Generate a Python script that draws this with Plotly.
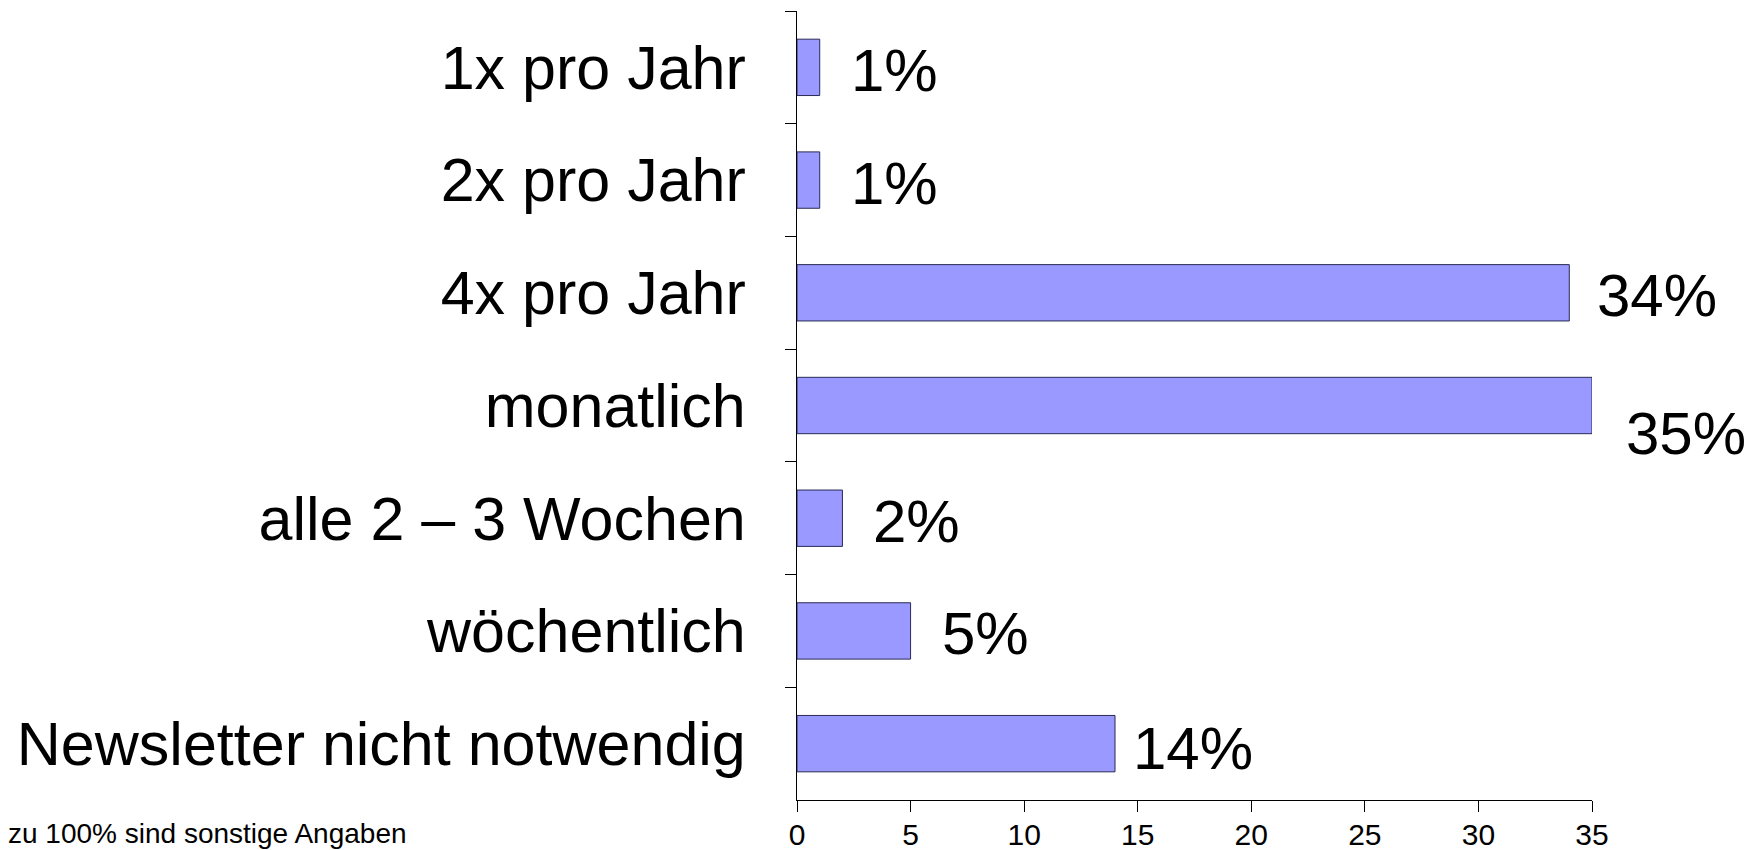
import plotly.graph_objects as go

categories = [
    "1x pro Jahr",
    "2x pro Jahr",
    "4x pro Jahr",
    "monatlich",
    "alle 2 \u2013 3 Wochen",
    "w\u00f6chentlich",
    "Newsletter nicht notwendig",
]
values = [1, 1, 34, 35, 2, 5, 14]
value_labels = ["1%", "1%", "34%", "35%", "2%", "5%", "14%"]
x_ticks = [0, 5, 10, 15, 20, 25, 30, 35]
footnote = "zu 100% sind sonstige Angaben"

FONT = "Arial, Liberation Sans, sans-serif"
# page body has an 8px margin, so the figure is sized to fit the window
W, H = 1752, 842
ML, MR, MT, MB = 789, 168, 3, 50

fig = go.Figure()
fig.add_trace(go.Bar(
    x=values,
    y=categories,
    orientation="h",
    marker=dict(color="#9999FF", line=dict(color="#2A2A55", width=1)),
    hoverinfo="x+y",
))

# label offsets (styling only)
label_dx = {"35%": 32, "14%": 16, "34%": 26}
label_dy = {"35%": -28, "14%": -5}
for cat, v, lab in zip(categories, values, value_labels):
    fig.add_annotation(
        x=v, y=cat, xref="x", yref="y",
        text=lab, showarrow=False,
        xanchor="left", yanchor="middle",
        xshift=label_dx.get(lab, 29), yshift=label_dy.get(lab, -3),
        font=dict(family=FONT, size=60, color="black"),
    )

plot_w = W - ML - MR
fig.add_annotation(
    x=-ML / plot_w, y=0, xref="paper", yref="paper",
    text=footnote, showarrow=False,
    xanchor="left", yanchor="middle", yshift=-33, xshift=-2,
    font=dict(family=FONT, size=28, color="black"),
)

fig.update_layout(
    width=W, height=H,
    margin=dict(l=ML, r=MR, t=MT, b=MB, autoexpand=False),
    plot_bgcolor="white", paper_bgcolor="white",
    showlegend=False,
    bargap=0.5,
    font=dict(family=FONT, color="black"),
)
fig.update_xaxes(
    range=[0, 35],
    tickvals=x_ticks,
    automargin=False,
    ticks="outside", ticklen=11, tickcolor="black", tickwidth=1,
    ticklabelstandoff=-3,
    showline=True, linecolor="black", linewidth=1,
    showgrid=False, zeroline=False,
    tickfont=dict(family=FONT, size=30, color="black"),
)
fig.update_yaxes(
    categoryorder="array", categoryarray=categories,
    autorange="reversed",
    automargin=False,
    ticks="outside", ticklen=11, tickcolor="black", tickwidth=1,
    tickson="boundaries",
    ticklabelstandoff=38,
    showline=True, linecolor="black", linewidth=1,
    showgrid=False, zeroline=False,
    tickfont=dict(family=FONT, size=61, color="black"),
)

fig.write_html("out.html")
